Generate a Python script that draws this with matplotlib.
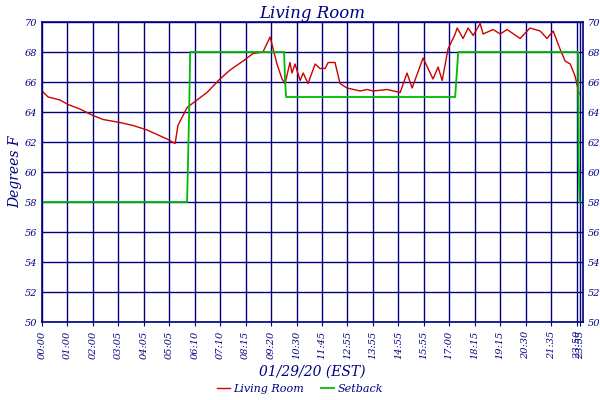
import matplotlib
matplotlib.use("Agg")
import matplotlib.pyplot as plt

NAVY = "#000080"

# x positions are in tick-slot units (ticks are evenly spaced samples)
tick_pos = list(range(21)) + [21.02, 21.14]
tick_labels = ["00:00", "01:00", "02:00", "03:05", "04:05", "05:05", "06:10", "07:10",
               "08:15", "09:20", "10:30", "11:45", "12:55", "13:55", "14:55", "15:55",
               "17:00", "18:15", "19:15", "20:30", "21:35", "23:50", "23:55"]

room_x = [0, .24, .71, 1.02, 1.49, 1.96, 2.40, 3.06, 3.58, 4.13, 4.52, 4.91, 5.23, 5.34,
          5.70, 6.09, 6.48, 6.99, 7.39, 7.90, 8.29, 8.68, 8.96, 9.23, 9.43, 9.55, 9.74,
          9.82, 9.94, 10.14, 10.26, 10.45, 10.73, 10.92, 11.12, 11.24, 11.51, 11.71,
          11.98, 12.50, 12.77, 13.01, 13.56, 14.07, 14.34, 14.54, 14.97, 15.36, 15.56,
          15.72, 15.95, 16.23, 16.31, 16.54, 16.74, 16.94, 17.21, 17.33, 17.72, 18.00,
          18.27, 18.78, 19.17, 19.57, 19.84, 20.08, 20.35, 20.55, 20.75, 20.94, 21.02, 21.10]
room_y = [65.4, 65.0, 64.8, 64.5, 64.2, 63.8, 63.5, 63.3, 63.1, 62.8, 62.5, 62.2, 61.9, 63.1,
          64.3, 64.8, 65.3, 66.2, 66.8, 67.4, 67.9, 68.0, 69.0, 67.2, 66.2, 65.9, 67.3,
          66.6, 67.2, 66.1, 66.6, 65.9, 67.2, 66.9, 66.9, 67.3, 67.3, 65.9,
          65.6, 65.4, 65.5, 65.4, 65.5, 65.3, 66.6, 65.6, 67.6, 66.2, 67.0,
          66.1, 68.2, 69.2, 69.6, 68.9, 69.6, 69.1, 69.9, 69.2, 69.5, 69.2,
          69.5, 68.9, 69.6, 69.4, 68.9, 69.4, 68.2, 67.4, 67.2, 66.4, 65.8, 65.2]

setback_x = [0, 5.70, 5.72, 5.78, 5.82, 9.51, 9.55, 9.59, 16.23, 16.27, 16.35, 21.06, 21.08, 21.12]
setback_y = [58, 58, 59.5, 64, 68, 68, 66, 65, 65, 66, 68, 68, 60.5, 58]

font = {"family": "DejaVu Serif", "style": "italic", "color": NAVY}

fig = plt.figure(figsize=(6, 4), dpi=100)
ax = fig.add_axes([0.07, 0.195, 0.902, 0.75])
ax.plot(room_x, room_y, color="#cc0000", lw=1, label="Living Room")
ax.plot(setback_x, setback_y, color="#00bb00", lw=1.3, label="Setback")

ax.set_xlim(0, 21.26)
ax.set_ylim(50, 70)
ax.set_xticks(tick_pos)
ax.set_xticklabels(tick_labels, rotation=90, fontsize=7, fontfamily="DejaVu Serif",
                   style="italic", color=NAVY)
ax.set_yticks(range(50, 71, 2))
ax.tick_params(axis="y", labelsize=7, colors=NAVY, labelright=True, right=True, length=0)
ax.tick_params(axis="x", colors=NAVY, length=3)
for lab in ax.get_yticklabels():
    lab.set_fontfamily("DejaVu Serif")
    lab.set_style("italic")
ax.grid(True, color=NAVY, lw=1)
for s in ax.spines.values():
    s.set_color(NAVY)
    s.set_linewidth(1.2)

ax.set_title("Living Room", fontsize=12, pad=3, **font)
ax.set_ylabel("Degrees F", fontsize=10, labelpad=2, **font)
ax.set_xlabel("01/29/20 (EST)", fontsize=10, labelpad=4, **font)

leg = fig.legend(loc="lower center", bbox_to_anchor=(0.5, -0.01), ncol=2, frameon=False,
                 prop={"family": "DejaVu Serif", "style": "italic", "size": 8},
                 handlelength=1.2, handletextpad=0.3, columnspacing=1.5)
for t in leg.get_texts():
    t.set_color(NAVY)

fig.savefig("out.png", dpi=100)
